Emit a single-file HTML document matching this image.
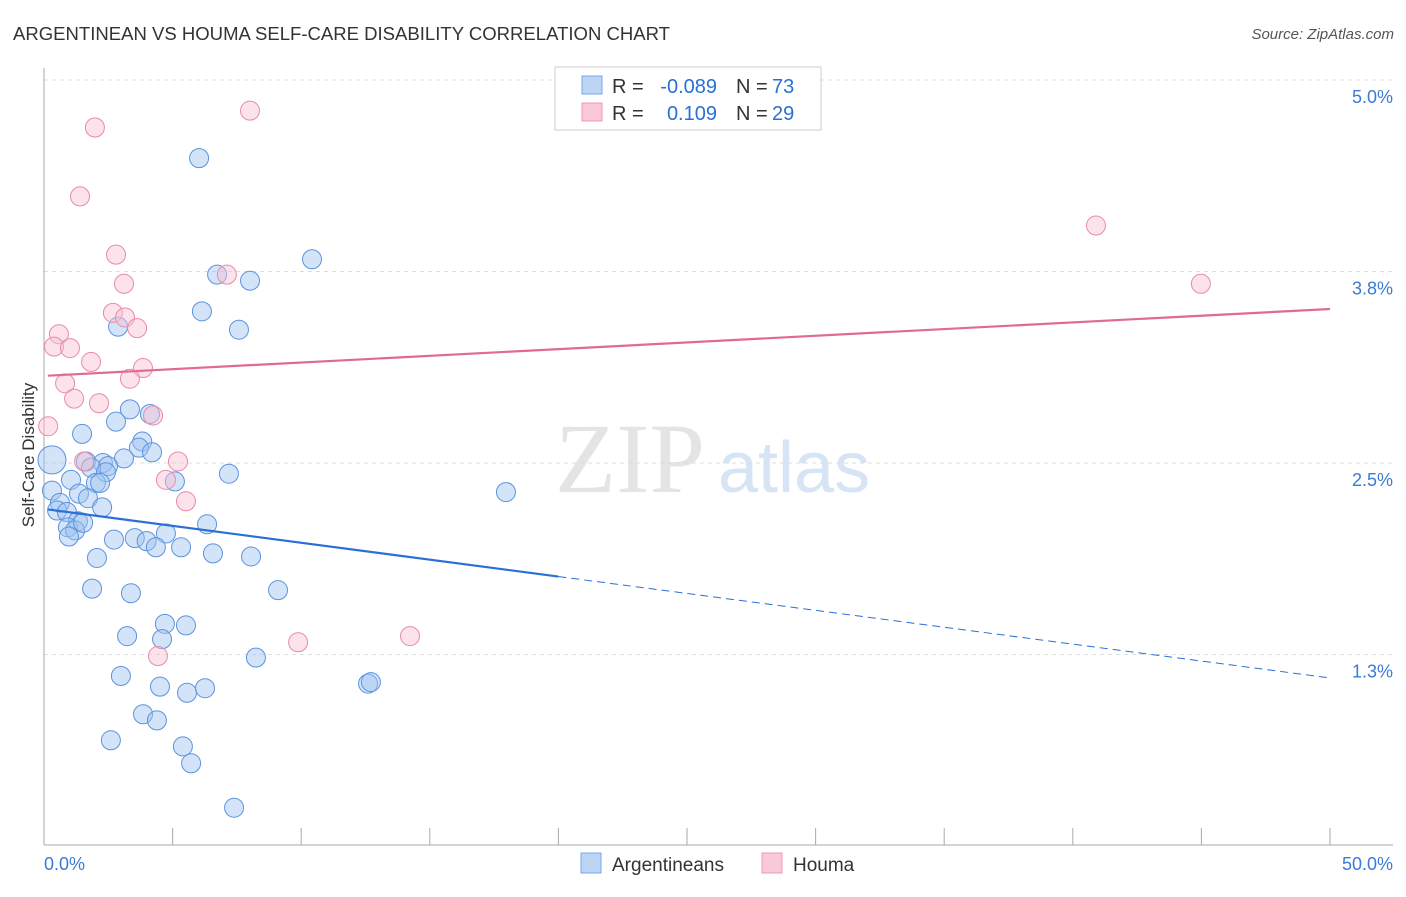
<!DOCTYPE html>
<html><head><meta charset="utf-8"><style>
body{margin:0;background:#fff;font-family:"Liberation Sans",sans-serif}
</style></head><body>
<svg id="chart" width="1406" height="892" xmlns="http://www.w3.org/2000/svg" font-family="Liberation Sans, sans-serif">
<text x="13" y="40" font-size="18" fill="#333" textLength="657" lengthAdjust="spacingAndGlyphs">ARGENTINEAN VS HOUMA SELF-CARE DISABILITY CORRELATION CHART</text>
<text x="1394" y="39" font-size="15" fill="#555" font-style="italic" text-anchor="end">Source: ZipAtlas.com</text>
<text x="555" y="492" font-size="100" fill="#e4e4e4" font-family="Liberation Serif, serif">ZIP</text>
<text x="718" y="492" font-size="72" fill="#d6e4f5">atlas</text>
<text transform="translate(34,455) rotate(-90)" font-size="17" fill="#333" text-anchor="middle">Self-Care Disability</text>
<g id="grid"></g><g id="axes"></g><g id="marks"></g>
<g>
<rect x="555" y="67" width="266" height="63" fill="#fff" stroke="#ccc"/>
<rect x="582" y="76" width="20" height="18" fill="#bcd5f5" stroke="#7aa8e8"/>
<rect x="582" y="103" width="20" height="18" fill="#fbc8d8" stroke="#ee9ab5"/>
<text x="612" y="93" font-size="20" fill="#333">R =</text>
<text x="717" y="93" font-size="20" fill="#2a6fd6" text-anchor="end">-0.089</text>
<text x="736" y="93" font-size="20" fill="#333">N =</text>
<text x="772" y="93" font-size="20" fill="#2a6fd6">73</text>
<text x="612" y="120" font-size="20" fill="#333">R =</text>
<text x="717" y="120" font-size="20" fill="#2a6fd6" text-anchor="end">0.109</text>
<text x="736" y="120" font-size="20" fill="#333">N =</text>
<text x="772" y="120" font-size="20" fill="#2a6fd6">29</text>
</g>
<g>
<rect x="581" y="853" width="20" height="20" fill="#bcd5f5" stroke="#7aa8e8"/>
<text x="612" y="871" font-size="19" fill="#333">Argentineans</text>
<rect x="762" y="853" width="20" height="20" fill="#fbc8d8" stroke="#ee9ab5"/>
<text x="793" y="871" font-size="19" fill="#333">Houma</text>
</g>
</svg>
<script>
const blueX=[6.03,10.42,6.73,8.01,6.14,2.88,7.58,3.34,4.12,2.80,1.48,3.82,3.69,4.20,3.11,0.31,1.63,2.29,2.49,1.83,2.41,7.19,1.05,2.02,2.18,5.09,0.31,1.36,17.96,1.71,0.62,0.51,0.89,2.26,1.32,0.93,1.21,1.52,0.97,6.34,4.74,2.72,3.53,3.99,4.35,5.33,6.57,8.05,2.06,1.87,9.10,3.38,4.70,5.52,3.23,4.59,8.24,2.99,4.51,5.56,6.26,12.60,12.71,3.85,4.39,2.60,5.40,5.72,7.39];
const blueY=[4.49,3.83,3.73,3.69,3.49,3.39,3.37,2.85,2.82,2.77,2.69,2.64,2.60,2.57,2.53,2.52,2.51,2.50,2.48,2.47,2.44,2.43,2.39,2.37,2.37,2.38,2.32,2.30,2.31,2.27,2.24,2.19,2.18,2.21,2.12,2.08,2.06,2.11,2.02,2.10,2.04,2.00,2.01,1.99,1.95,1.95,1.91,1.89,1.88,1.68,1.67,1.65,1.45,1.44,1.37,1.35,1.23,1.11,1.04,1.00,1.03,1.06,1.07,0.86,0.82,0.69,0.65,0.54,0.25];
const pinkX=[8.01,1.98,1.40,40.90,2.80,7.11,3.11,44.98,2.68,3.15,3.62,0.58,0.39,1.01,1.83,3.85,3.34,0.82,1.17,2.14,4.24,0.16,1.56,5.21,4.74,5.52,14.23,9.88,4.43];
const pinkY=[4.80,4.69,4.24,4.05,3.86,3.73,3.67,3.67,3.48,3.45,3.38,3.34,3.26,3.25,3.16,3.12,3.05,3.02,2.92,2.89,2.81,2.74,2.51,2.51,2.39,2.25,1.37,1.33,1.24];
const yTicks=[5.0,3.75,2.5,1.25];
const yTickLabels=["5.0%","3.8%","2.5%","1.3%"];
const xTicks=[0,5,10,15,20,25,30,35,40,45,50];
const blueTrend=[2.20,1.097];
const pinkTrend=[3.07,3.505];
const blueSolidEnd=20;
const NS="http://www.w3.org/2000/svg";
const sx=v=>44+v*25.72, sy=v=>80+(5-v)*153.2;
function mk(t,a,p){const e=document.createElementNS(NS,t);for(const k in a)e.setAttribute(k,a[k]);p.appendChild(e);return e;}
const grid=document.getElementById('grid'),axes=document.getElementById('axes'),marks=document.getElementById('marks');
yTicks.forEach((v,i)=>{
 const l=mk('line',{x1:44,x2:1393,y1:sy(v),y2:sy(v),stroke:'#ddd','stroke-dasharray':'4,4'},grid);
 
 
 const t=mk('text',{x:1393,y:sy(v)+23,'font-size':18,fill:'#3a7bd5','text-anchor':'end'},axes);
 t.textContent=yTickLabels[i];
 
 
});
const ax=mk('line',{x1:44,x2:1393,y1:845,y2:845,stroke:'#aaa'},axes);


const ay=mk('line',{x1:44,x2:44,y1:68,y2:845,stroke:'#aaa'},axes);


xTicks.forEach(v=>{
 const l=mk('line',{x1:sx(v),x2:sx(v),y1:828,y2:845,stroke:'#aaa'},axes);
 
 
});
[[0,'0.0%','start',44],[50,'50.0%','end',1393]].forEach(d=>{
 const t=mk('text',{x:d[3],y:870,'font-size':18,fill:'#3a7bd5','text-anchor':d[2]},axes);
 t.textContent=d[1];
 
 
});
blueX.forEach((x,i)=>{
 const c=mk('circle',{cx:sx(x),cy:sy(blueY[i]),r:(i==15?14:9.5),fill:'rgba(160,196,240,0.45)',stroke:'#5b93df','stroke-width':1},marks);
 
 
});
pinkX.forEach((x,i)=>{
 const c=mk('circle',{cx:sx(x),cy:sy(pinkY[i]),r:9.5,fill:'rgba(248,190,210,0.45)',stroke:'#e98aab','stroke-width':1},marks);
 
 
});
const bAt=v=>blueTrend[0]+(blueTrend[1]-blueTrend[0])*v/50;
const bl=mk('line',{x1:sx(0.15),y1:sy(bAt(0.15)),x2:sx(blueSolidEnd),y2:sy(bAt(blueSolidEnd)),stroke:'#2a6fd6','stroke-width':2.2},marks);


const bd=mk('line',{x1:sx(blueSolidEnd),y1:sy(bAt(blueSolidEnd)),x2:sx(50),y2:sy(bAt(50)),stroke:'#2a6fd6','stroke-width':1,'stroke-dasharray':'8,5'},marks);


const pl=mk('line',{x1:sx(0.15),y1:sy(pinkTrend[0]),x2:sx(50),y2:sy(pinkTrend[1]),stroke:'#e06a95','stroke-width':2.2},marks);


</script>
</body></html>
